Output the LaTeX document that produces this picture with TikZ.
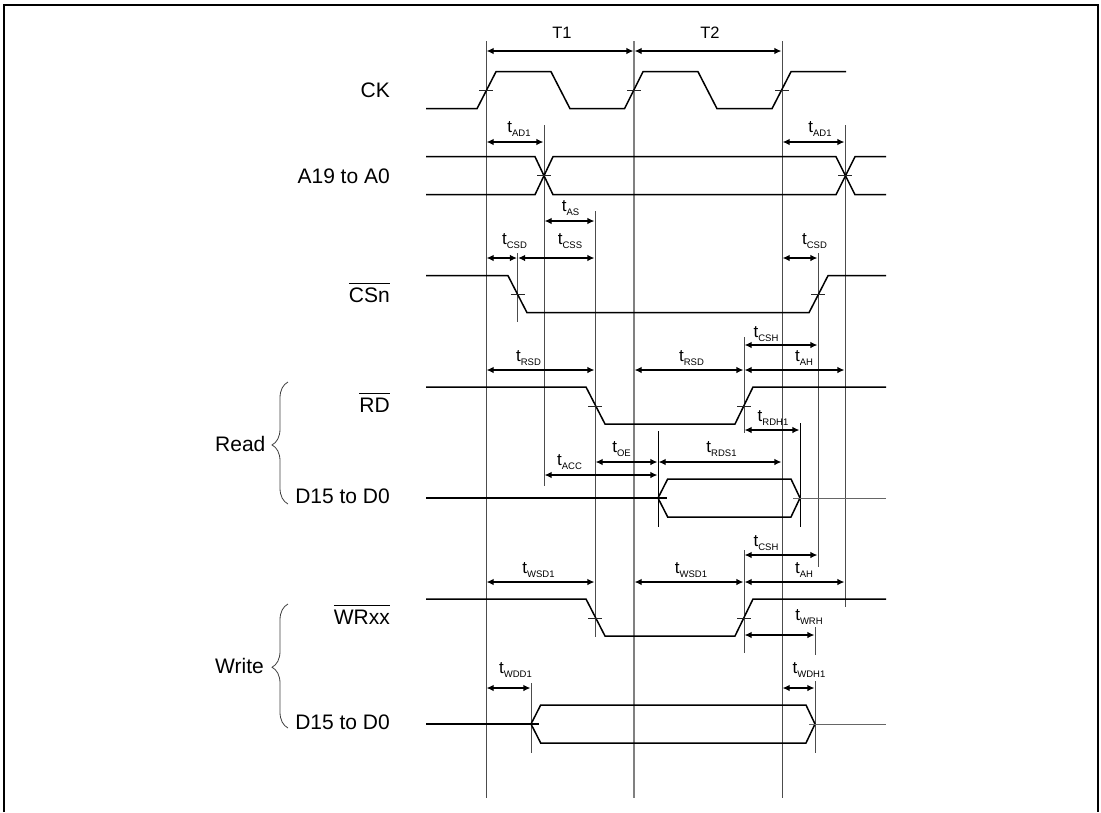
\documentclass[tikz,border=0pt]{standalone}
\usepackage{fontspec}
\setmainfont{Liberation Sans}
\usetikzlibrary{arrows.meta}
\usetikzlibrary{decorations.pathreplacing}

\newcommand{\tlab}[1]{{\fontsize{17}{17}\selectfont t}\raisebox{-4.5pt}{\fontsize{9.5}{10}\selectfont #1}}
\newcommand{\ovl}[1]{\ensuremath{\overline{\mbox{\vphantom{\rule{0pt}{17.5pt}}#1}}}}

\begin{document}
\begin{tikzpicture}[x=1pt, y=-1pt,
  sig/.style={line width=1.5pt, line join=miter},
  dull/.style={line width=1pt, draw=black!60},
  guide/.style={line width=1pt, draw=black!70},
  crossmark/.style={line width=.6pt, draw=black!85},
  gap/.style={{Latex[length=7pt,width=6.5pt]}-{Latex[length=7pt,width=6.5pt]}, line width=1.2pt, shorten <=.6pt, shorten >=.6pt},
  signame/.style={anchor=base east, inner sep=0pt, font=\fontsize{21}{24}\selectfont},
  grouplab/.style={anchor=base west, inner sep=0pt, font=\fontsize{21}{24}\selectfont},
  period/.style={anchor=base, inner sep=0pt, font=\fontsize{16.5}{18}\selectfont},
  tim/.style={anchor=base, inner sep=0pt}]

\useasboundingbox (0,0) rectangle (1101,812);

% frame
\draw[line width=2pt] (4,812) -- (4,5) -- (1097.5,5) -- (1097.5,812);

% guide lines
\coordinate (gT1) at (486,0);
\coordinate (gT2) at (634,0);
\coordinate (gT3) at (782,0);
\coordinate (gAD) at (544,0);
\coordinate (gAS) at (595,0);
\coordinate (gCSa) at (517.5,0);
\coordinate (gCSb) at (818,0);
\coordinate (gAH) at (845,0);
\coordinate (gRD) at (744,0);
\coordinate (gOE) at (658,0);
\coordinate (gRH) at (800,0);
\coordinate (gWH) at (815,0);
\coordinate (gWD) at (531,0);

\draw[guide] (gT1 |- 0,41) -- (gT1 |- 0,798);
\draw[guide, line width=1.4pt, draw=black!50] (gT2 |- 0,41) -- (gT2 |- 0,798);
\draw[guide] (gT3 |- 0,41) -- (gT3 |- 0,798);
\draw[guide] (gAD |- 0,125) -- (gAD |- 0,486);
\draw[guide] (gAS |- 0,211) -- (gAS |- 0,637);
\draw[guide] (gCSa |- 0,253) -- (gCSa |- 0,322);
\draw[guide] (gCSb |- 0,253) -- (gCSb |- 0,567);
\draw[guide] (gAH |- 0,125) -- (gAH |- 0,607);
\draw[guide] (gRD |- 0,337) -- (gRD |- 0,433);
\draw[guide] (gRD |- 0,550) -- (gRD |- 0,653);
\draw[guide, black] (gOE |- 0,431) -- (gOE |- 0,527);
\draw[guide, black] (gRH |- 0,423) -- (gRH |- 0,527);
\draw[guide] (gWH |- 0,627) -- (gWH |- 0,655);
\draw[guide] (gWH |- 0,681) -- (gWH |- 0,753);
\draw[guide] (gWD |- 0,683) -- (gWD |- 0,753);

% CK
\draw[sig] (426,108.7) -- (477,108.7) -- (496,71.7) -- (551,71.7) -- (570,108.7) -- (624.5,108.7) -- (643,71.7) -- (698,71.7) -- (717,108.7) -- (772,108.7) -- (791,71.7) -- (846,71.7);
\draw[crossmark] (479,90) -- (493,90);
\draw[crossmark] (627,90) -- (641,90);
\draw[crossmark] (775,90) -- (789,90);

% A19 to A0
\draw[sig] (426,156.7) -- (535,156.7) -- (553,194.7) -- (836,194.7) -- (855,156.7) -- (886,156.7);
\draw[sig] (426,194.7) -- (535,194.7) -- (553,156.7) -- (836,156.7) -- (855,194.7) -- (886,194.7);
\draw[crossmark] (537,175) -- (551,175);
\draw[crossmark] (838,175) -- (852,175);

% CSn
\draw[sig] (426,275.7) -- (508,275.7) -- (527,312.7) -- (809,312.7) -- (828,275.7) -- (886,275.7);
\draw[crossmark] (510.5,294) -- (524.5,294);
\draw[crossmark] (811,294) -- (825,294);

% RD
\draw[sig] (426,387) -- (586,387) -- (605,424) -- (735,424) -- (753,387) -- (886,387);
\draw[crossmark] (588,406) -- (602,406);
\draw[crossmark] (737,406) -- (751,406);

% D15 to D0, read
\draw[sig] (426,498) -- (667,498);
\draw[sig] (658,498) -- (667.7,479) -- (791,479) -- (800,498) -- (791,517) -- (667.7,517) -- cycle;
\draw[dull] (793,498) -- (886,498);

% WRxx
\draw[sig] (426,599) -- (586,599) -- (605,636) -- (735,636) -- (753,599) -- (886,599);
\draw[crossmark] (588,618) -- (602,618);
\draw[crossmark] (737,618) -- (751,618);

% D15 to D0, write
\draw[sig] (426,724) -- (539,724);
\draw[sig] (531,724) -- (540.7,705) -- (806,705) -- (815,724) -- (806,743) -- (540.7,743) -- cycle;
\draw[dull] (809,724) -- (886,724);

% timing arrows
\draw[gap] (gT1 |- 0,51) -- (gT2 |- 0,51);
\draw[gap] (gT2 |- 0,51) -- (gT3 |- 0,51);
\draw[gap] (gT1 |- 0,142) -- (gAD |- 0,142);
\draw[gap] (gT3 |- 0,142) -- (gAH |- 0,142);
\draw[gap] (gAD |- 0,221) -- (gAS |- 0,221);
\draw[gap] (gT1 |- 0,258) -- (gCSa |- 0,258);
\draw[gap] (gCSa |- 0,258) -- (gAS |- 0,258);
\draw[gap] (gT3 |- 0,258) -- (gCSb |- 0,258);
\draw[gap] (gRD |- 0,345) -- (gCSb |- 0,345);
\draw[gap] (gT1 |- 0,370) -- (gAS |- 0,370);
\draw[gap] (gT2 |- 0,370) -- (gRD |- 0,370);
\draw[gap] (gRD |- 0,370) -- (gAH |- 0,370);
\draw[gap] (gRD |- 0,430) -- (gRH |- 0,430);
\draw[gap] (gAS |- 0,462) -- (gOE |- 0,462);
\draw[gap] (gOE |- 0,462) -- (gT3 |- 0,462);
\draw[gap] (gAD |- 0,475) -- (gOE |- 0,475);
\draw[gap] (gRD |- 0,555) -- (gCSb |- 0,555);
\draw[gap] (gT1 |- 0,582) -- (gAS |- 0,582);
\draw[gap] (gT2 |- 0,582) -- (gRD |- 0,582);
\draw[gap] (gRD |- 0,582) -- (gAH |- 0,582);
\draw[gap] (gRD |- 0,635) -- (gWH |- 0,635);
\draw[gap] (gT1 |- 0,688) -- (gWD |- 0,688);
\draw[gap] (gT3 |- 0,688) -- (gWH |- 0,688);

% timing labels
\node[period] (t1) at (562,38) {T1};
\node[period] (t2) at (710,38) {T2};
\node[tim] (ad1) at (519,132) {\tlab{AD1}};
\node[tim] (ad2) at (820,132) {\tlab{AD1}};
\node[tim] (as) at (570.5,211) {\tlab{AS}};
\node[tim] (csd1) at (514.5,244) {\tlab{CSD}};
\node[tim] (css) at (570,244) {\tlab{CSS}};
\node[tim] (csd2) at (814.5,244) {\tlab{CSD}};
\node[tim] (csh1) at (766,337) {\tlab{CSH}};
\node[tim] (rsd1) at (528.5,361) {\tlab{RSD}};
\node[tim] (rsd2) at (691.5,361) {\tlab{RSD}};
\node[tim] (ah1) at (804,361) {\tlab{AH}};
\node[tim] (rdh) at (773,421) {\tlab{RDH1}};
\node[tim] (oe) at (621.5,452) {\tlab{OE}};
\node[tim] (rds) at (721.5,452) {\tlab{RDS1}};
\node[tim] (acc) at (569.5,465) {\tlab{ACC}};
\node[tim] (csh2) at (766,546) {\tlab{CSH}};
\node[tim] (wsd1) at (538.5,573) {\tlab{WSD1}};
\node[tim] (wsd2) at (691,573) {\tlab{WSD1}};
\node[tim] (ah2) at (804,573) {\tlab{AH}};
\node[tim] (wrh) at (809,620) {\tlab{WRH}};
\node[tim] (wdd) at (515.5,673) {\tlab{WDD1}};
\node[tim] (wdh) at (809,673) {\tlab{WDH1}};

% signal names
\node[signame] (ck) at (390,97) {CK};
\node[signame] (addr) at (390,183) {A19 to A0};
\node[signame] (csn) at (390,302) {\ovl{CSn}};
\node[signame] (rd) at (390,412) {\ovl{RD}};
\node[signame] (dread) at (390,503) {D15 to D0};
\node[signame] (wr) at (390,624) {\ovl{WRxx}};
\node[signame] (dwrite) at (390,729) {D15 to D0};

% read and write groups
\node[grouplab] (read) at (215,451) {Read};
\node[grouplab] (write) at (215,673) {Write};
\draw[decorate, decoration={brace, amplitude=16pt, aspect=.484}, line width=.8pt, draw=black!75] (288,504) -- (288,382);
\draw[decorate, decoration={brace, amplitude=16pt, aspect=.49}, line width=.8pt, draw=black!75] (288,728) -- (288,604);

\end{tikzpicture}
\end{document}
